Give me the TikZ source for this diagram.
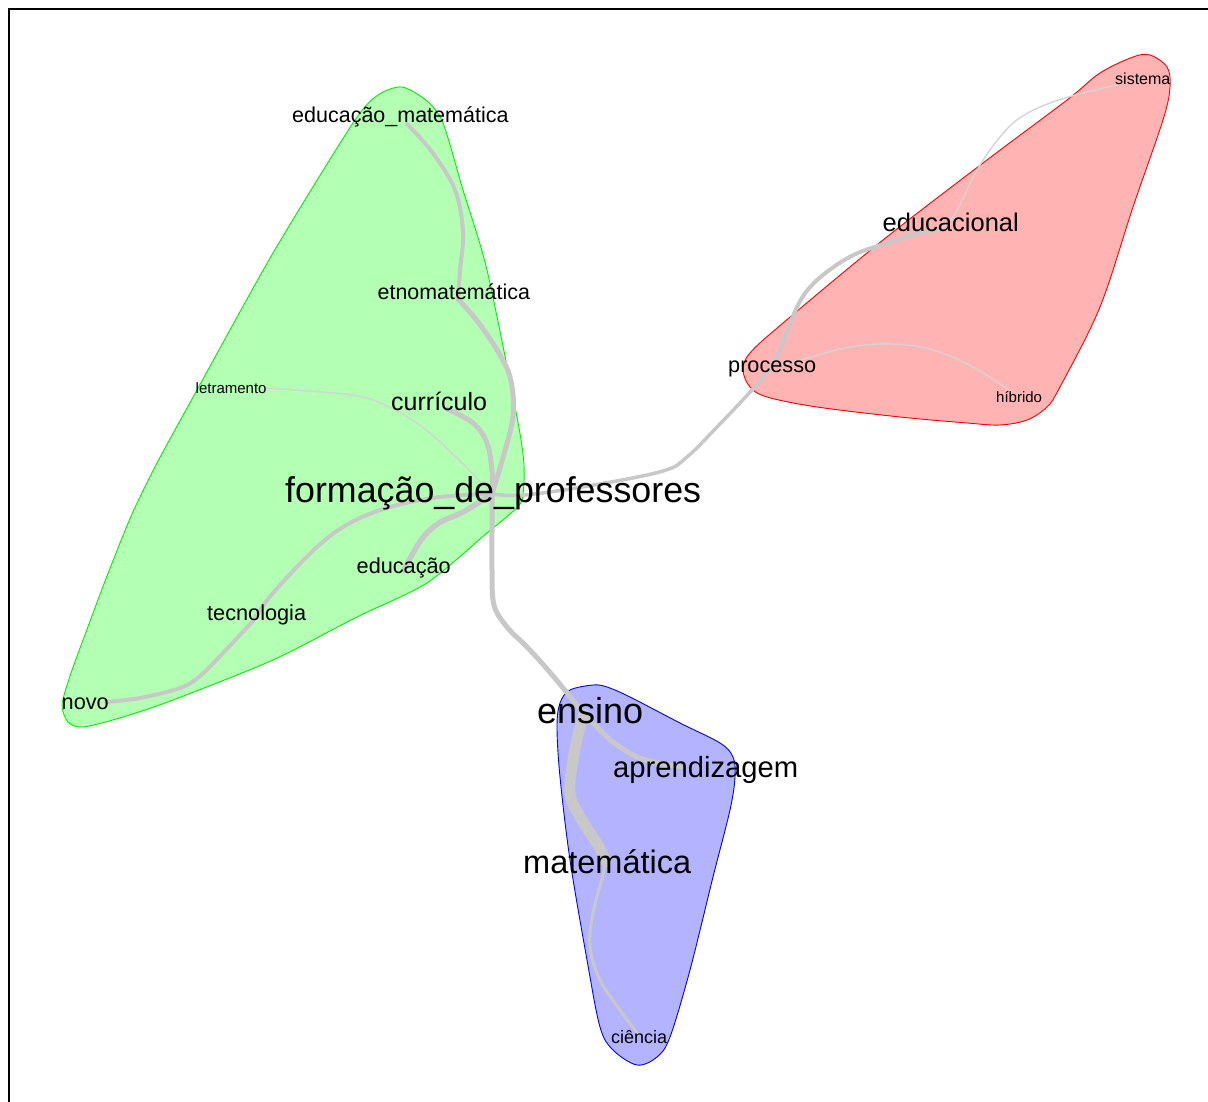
\documentclass[tikz,border=0pt]{standalone}
\usepackage{fontspec}
\setmainfont{Liberation Sans}
\definecolor{gfill}{RGB}{179,255,179}
\definecolor{rfill}{RGB}{255,179,179}
\definecolor{bfill}{RGB}{179,179,255}
\definecolor{gline}{RGB}{0,240,0}
\definecolor{rline}{RGB}{255,0,0}
\definecolor{bline}{RGB}{0,0,255}
\definecolor{edgegray}{RGB}{200,200,200}
\definecolor{thingray}{RGB}{212,212,212}
\newcommand\fsz[1]{\fontsize{#1}{#1}\selectfont}
\begin{document}
\begin{tikzpicture}[x=1pt,y=-1pt,
  lbl/.style={anchor=base west,inner sep=0pt,text=black},
  edge/.style={draw=edgegray,line cap=round,line join=round},
  thinedge/.style={draw=thingray,line cap=round,line join=round,line width=1.4},
  hull/.style={line width=0.9}]
\useasboundingbox (0,0) rectangle (1208,1102);
\clip (0,0) rectangle (1208,1102);
% frame
\draw[line width=2] (9,1110) -- (9,9.5) -- (1215,9.5);
% hulls
\filldraw[hull,fill=gfill,draw=gline] plot[smooth cycle,tension=0.45] coordinates {
 (402,87) (427,101) (443,123) (463,190) (487,270) (517,417) (524,465) (522,500)
 (510,514) (487,533) (427,583) (357,617) (273,660) (173,700) (123,717) (83,727)
 (68,722) (62,705) (70,676) (86,632) (107,576) (132,514) (157,463) (197,390)
 (273,253) (353,123) (378,95)};
\filldraw[hull,fill=rfill,draw=rline] plot[smooth cycle,tension=0.55] coordinates {
 (1150,55) (1167,67) (1170,87) (1163,120) (1133,207) (1100,307) (1060,387)
 (1047,407) (1027,420) (1000,425) (967,423) (900,417) (817,407) (767,397)
 (750,387) (743,370) (750,353) (783,323) (883,240) (983,163) (1067,100)
 (1100,73) (1133,57)};
\filldraw[hull,fill=bfill,draw=bline] plot[smooth cycle,tension=0.55] coordinates {
 (593,685) (570,690) (560,703) (557,727) (560,777) (570,860) (587,960) (600,1027)
 (613,1050) (637,1065) (657,1057) (670,1037) (690,970) (713,877) (730,810)
 (735,777) (733,757) (720,743) (680,723) (630,697) (607,687)};
% vertices
\coordinate (vem) at (407,124);
\coordinate (vet) at (458,299);
\coordinate (vle) at (266,388);
\coordinate (vcu) at (447,409);
\coordinate (vfp) at (492,494);
\coordinate (ved) at (404,570);
\coordinate (vte) at (253,621);
\coordinate (vno) at (106,702);
\coordinate (ven) at (584,714);
\coordinate (vap) at (682,767);
\coordinate (vma) at (606,862);
\coordinate (vci) at (638,1034);
\coordinate (vec) at (940,229);
\coordinate (vpr) at (772,367);
\coordinate (vhi) at (1012,392);
\coordinate (vsi) at (1117,85);
% edges
\draw[edge,line width=4] plot[smooth,tension=0.6] coordinates {(vem) (432,152) (455,190) (463,232) (460,270) (vet)};
\draw[edge,line width=5] plot[smooth,tension=0.6] coordinates {(vet) (478,322) (500,355) (511,381) (513,416) (504,454) (vfp)};
\draw[edge,line width=5] plot[smooth,tension=0.6] coordinates {(vcu) (473,423) (487,443) (492,471) (vfp)};
\draw[thinedge] plot[smooth,tension=0.6] coordinates {(vle) (352,395) (387,406) (421,426) (456,457) (vfp)};
\draw[edge,line width=4] plot[smooth,tension=0.6] coordinates {(vno) (140,698) (180,688) (200,676) (223,653) (vte)};
\draw[edge,line width=4] plot[smooth,tension=0.6] coordinates {(vte) (273,593) (317,547) (350,523) (390,507) (440,497) (vfp)};
\draw[edge,line width=5.5] plot[smooth,tension=0.6] coordinates {(ved) (421,540) (439,523) (463,512) (vfp)};
\draw[edge,line width=5] plot[smooth,tension=0.6] coordinates {(vfp) (492,530) (492,570) (494,605) (507,627) (527,647) (548,670) (568,694) (ven)};
\draw[edge,line width=3.5] plot[smooth,tension=0.6] coordinates {(vfp) (525,495) (594,485) (663,471) (687,457) (718,426) (752,390) (vpr)};
\draw[edge,line width=4] plot[smooth,tension=0.6] coordinates {(vpr) (782,345) (797,307) (812,285) (835,266) (858,253) (887,243) (915,234) (vec)};
\draw[thinedge] plot[smooth,tension=0.6] coordinates {(vec) (955,214) (977,170) (1000,137) (1021,117) (1050,103) (1083,93) (vsi)};
\draw[thinedge] plot[smooth,tension=0.6] coordinates {(vpr) (800,360) (850,347) (893,344) (933,350) (973,367) (vhi)};
\draw[edge,line width=5] plot[smooth,tension=0.6] coordinates {(ven) (597,727) (613,742) (637,757) (663,764) (vap)};
\draw[edge,line width=11] plot[smooth,tension=0.6] coordinates {(ven) (578,735) (573,760) (570,793) (580,817) (598,845) (vma)};
\draw[edge,line width=3] plot[smooth,tension=0.6] coordinates {(vma) (603,875) (593,913) (590,947) (600,980) (620,1010) (vci)};
% labels
\node[lbl] (em) at (292,123) {\fsz{21.5}educação\_matemática};
\node[lbl] (et) at (377.5,299) {\fsz{21.4}etnomatemática};
\node[lbl] (le) at (195.5,393) {\fsz{15}letramento};
\node[lbl] (cu) at (391,410) {\fsz{25}currículo};
\node[lbl] (fp) at (285,502) {\fsz{35.8}formação\_de\_professores};
\node[lbl] (ed) at (356.5,573) {\fsz{21.7}educação};
\node[lbl] (te) at (207,620) {\fsz{21.7}tecnologia};
\node[lbl] (no) at (61.5,709) {\fsz{21.7}novo};
\node[lbl] (en) at (537,723) {\fsz{36}ensino};
\node[lbl] (ap) at (613,777) {\fsz{29.2}aprendizagem};
\node[lbl] (ma) at (523,873) {\fsz{32.5}matemática};
\node[lbl] (ci) at (611,1043) {\fsz{18}ciência};
\node[lbl] (ec) at (882.5,232) {\fsz{25.5}educacional};
\node[lbl] (pr) at (728,372) {\fsz{21.7}processo};
\node[lbl] (hi) at (996,402) {\fsz{15}híbrido};
\node[lbl] (si) at (1115,85) {\fsz{16}sistema};
\end{tikzpicture}
\end{document}
